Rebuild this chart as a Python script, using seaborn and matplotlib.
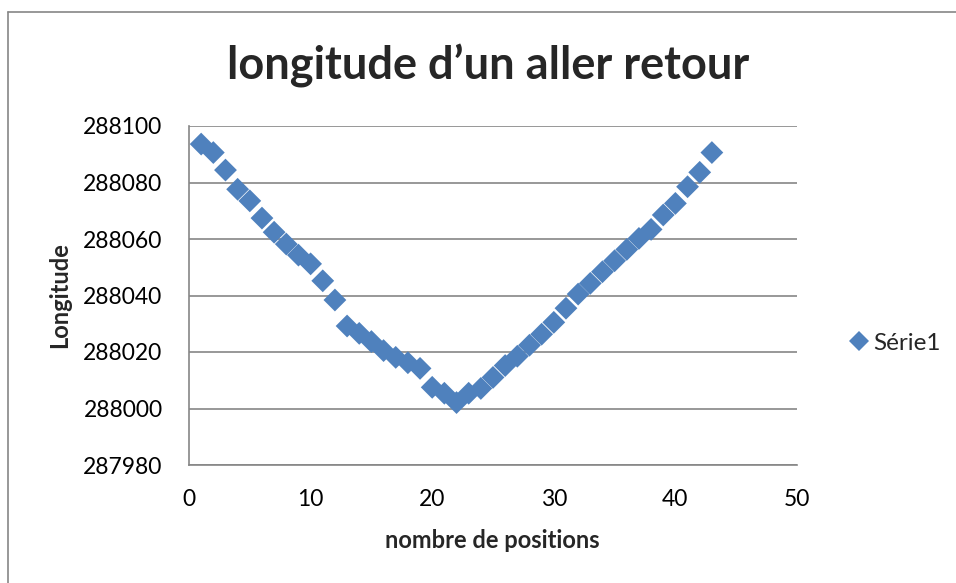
import matplotlib
matplotlib.use("Agg")
import matplotlib.pyplot as plt
from matplotlib.lines import Line2D
import seaborn as sns
import pandas as pd

# Measured longitude for each position along the round trip
positions = list(range(1, 44))
longitudes = [
    288093.6, 288090.6, 288084.4, 288077.6, 288073.5, 288067.4, 288062.4,
    288058.2, 288054.3, 288051.2, 288045.2, 288038.4, 288029.2, 288026.6,
    288023.7, 288020.5, 288018.1, 288016.2, 288014.2, 288007.5, 288005.4,
    288002.1, 288005.4, 288007.1, 288011.0, 288015.2, 288018.5, 288022.4,
    288026.3, 288030.5, 288035.5, 288040.5, 288044.3, 288048.4, 288052.3,
    288056.3, 288060.2, 288063.4, 288068.5, 288072.6, 288078.5, 288083.6,
    288090.6,
]
series_name = "Série1"
title_text = "longitude d\u2019un aller retour"
x_label = "nombre de positions"
y_label = "Longitude"
x_ticks = [0, 10, 20, 30, 40, 50]
y_ticks = [287980, 288000, 288020, 288040, 288060, 288080, 288100]

df = pd.DataFrame({"x": positions, "y": longitudes})

sns.set_theme(style="white")
plt.rcParams["font.family"] = ["Lato", "DejaVu Sans"]

W, H = 956, 583
fig = plt.figure(figsize=(W / 100, H / 100), dpi=100)
ax = fig.add_axes([189 / W, 1 - 465 / H, (797 - 189) / W, (465 - 126) / H])

blue = "#4F81BD"
grid_c = "#868686"

sns.scatterplot(data=df, x="x", y="y", ax=ax, marker="D", s=135,
                color=blue, edgecolor="none", legend=False, zorder=3)

ax.set_xlim(x_ticks[0], x_ticks[-1])
ax.set_ylim(y_ticks[0], y_ticks[-1])
ax.set_xticks(x_ticks)
ax.set_yticks(y_ticks)
ax.set_xticklabels([str(t) for t in x_ticks])
ax.set_yticklabels([str(t) for t in y_ticks])
ax.tick_params(axis="both", labelsize=16.5, colors="black", length=0)
ax.tick_params(axis="x", pad=17)
ax.tick_params(axis="y", pad=19)

ax.yaxis.grid(True, color=grid_c, linewidth=1.2)
ax.xaxis.grid(False)
ax.set_axisbelow(True)
for side in ["top", "right"]:
    ax.spines[side].set_visible(False)
for side in ["left", "bottom"]:
    ax.spines[side].set_visible(True)
    ax.spines[side].set_color(grid_c)
    ax.spines[side].set_linewidth(1.2)

ax.set_xlabel(x_label, fontsize=17, fontweight="bold", va="center")
ax.set_ylabel(y_label, fontsize=17, fontweight="bold", va="center")
ax.xaxis.set_label_coords((492 - 189) / 608, (465 - 541) / 339)
ax.yaxis.set_label_coords((60 - 189) / 608, (465 - 295) / 339)

fig.text(488 / W, 1 - 66 / H, title_text, ha="center", va="center",
         fontsize=32.5, fontweight="bold")

handle = Line2D([], [], marker="D", linestyle="none", color=blue,
                markersize=10, markeredgewidth=0)
fig.legend([handle], [series_name], loc="center left",
           bbox_to_anchor=(837 / W, 1 - 343 / H), frameon=False,
           fontsize=17.5, handletextpad=0.1, handlelength=1.0,
           borderaxespad=0)

# outer chart frame (left and top edges)
fig.add_artist(Line2D([8 / W, 8 / W], [0, 1 - 12 / H], color=grid_c,
                      linewidth=1.2, transform=fig.transFigure))
fig.add_artist(Line2D([8 / W, 1], [1 - 12 / H, 1 - 12 / H], color=grid_c,
                      linewidth=1.2, transform=fig.transFigure))

fig.savefig("out.png", dpi=100, facecolor="white")
